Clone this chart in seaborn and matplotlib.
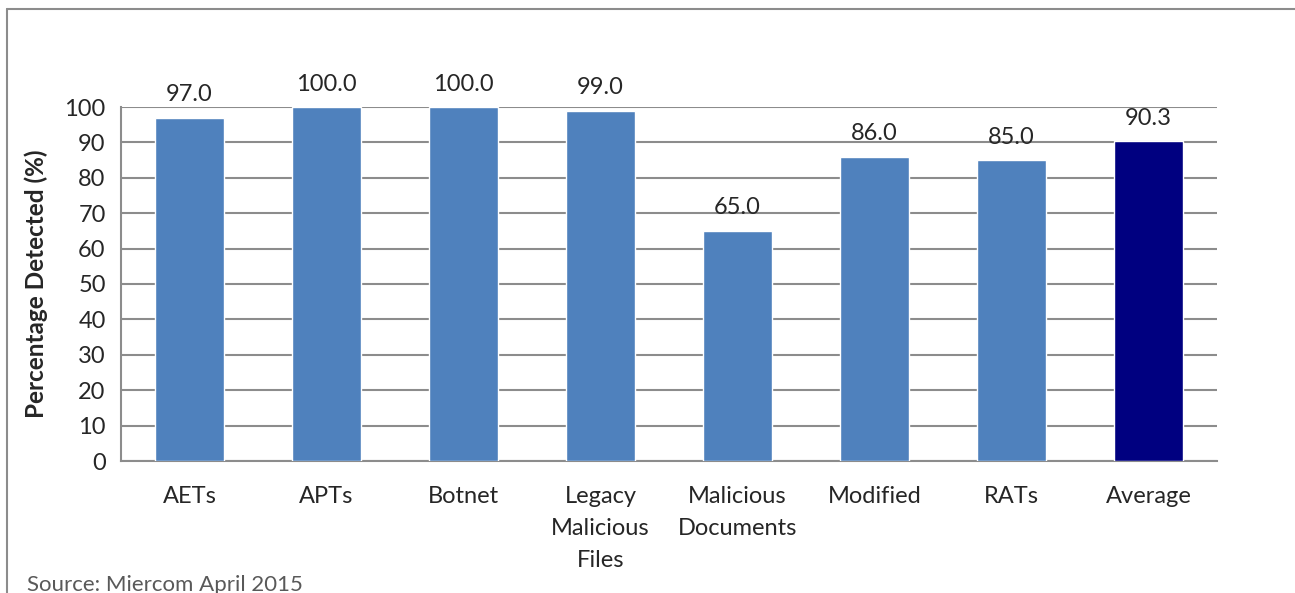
import matplotlib
matplotlib.use("Agg")
import matplotlib.pyplot as plt
import seaborn as sns
import pandas as pd
from matplotlib.lines import Line2D

# data
categories = ["AETs", "APTs", "Botnet", "Legacy\nMalicious\nFiles",
              "Malicious\nDocuments", "Modified", "RATs", "Average"]
detected = [97.0, 100.0, 100.0, 99.0, 65.0, 86.0, 85.0, 90.3]
bar_colors = ["#4F81BD"] * 7 + ["#000080"]

df = pd.DataFrame({"category": categories, "detected": detected})

sns.set_style("white")
plt.rcParams["font.family"] = ["Lato", "DejaVu Sans"]

fig = plt.figure(figsize=(12.95, 5.93), dpi=100)
ax = fig.add_axes([121 / 1295, 1 - 461 / 593, (1217 - 121) / 1295, (461 - 107) / 593])

sns.barplot(data=df, x="category", y="detected", hue="category",
            palette=bar_colors, legend=False, width=0.5, ax=ax,
            saturation=1, zorder=3)

grid_color = "#8C8C8C"
ax.set_ylim(0, 100)
ax.set_xlim(-0.5, len(categories) - 0.5)
ax.set_yticks(range(0, 101, 10))
ax.yaxis.grid(True, color=grid_color, linewidth=1.5, zorder=0)
ax.set_axisbelow(True)

for side in ["top", "right"]:
    ax.spines[side].set_visible(False)
for side in ["left", "bottom"]:
    ax.spines[side].set_color(grid_color)
    ax.spines[side].set_linewidth(1.5)

# x ticks sit between categories, labels centred on the bars
ax.set_xticks([i - 0.5 for i in range(len(categories) + 1)], minor=False)
ax.set_xticklabels([])
ax.set_xticks(range(len(categories)), minor=True)
ax.set_xticklabels(categories, minor=True, fontsize=17, linespacing=1.65, va="top")
ax.tick_params(axis="x", which="major", length=7, width=1.5, color=grid_color, direction="out")
ax.tick_params(axis="x", which="minor", length=0, pad=18)
ax.tick_params(axis="y", length=7, width=1.5, color=grid_color, labelsize=17, pad=4)

ax.set_xlabel("")
ax.set_ylabel("Percentage Detected (%)", fontsize=17.5, fontweight="bold", labelpad=12)

for i, v in enumerate(detected):
    ax.annotate(f"{v:.1f}", (i, v), xytext=(0, 9), textcoords="offset points",
                ha="center", va="bottom", fontsize=17, clip_on=False)

# outer frame on top and left only
fig.add_artist(Line2D([7 / 1295, 1], [1 - 9 / 593, 1 - 9 / 593], color="#8C8C8C", linewidth=1.5))
fig.add_artist(Line2D([7 / 1295, 7 / 1295], [0, 1 - 9 / 593], color="#8C8C8C", linewidth=1.5))

fig.text(27 / 1295, -2 / 593, "Source: Miercom April 2015", fontsize=16,
         color="#595959", ha="left", va="bottom")

fig.savefig("out.png", dpi=100, facecolor="white")
